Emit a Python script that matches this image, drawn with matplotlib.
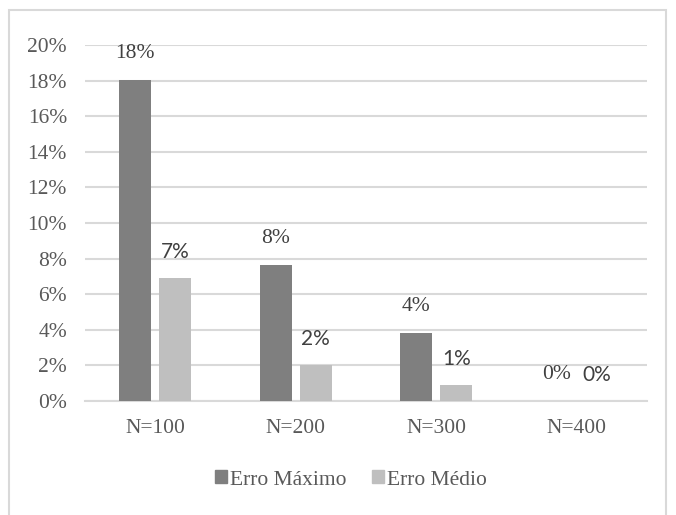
import matplotlib
matplotlib.use("Agg")
import matplotlib.pyplot as plt
from matplotlib.patches import Rectangle, Patch
from matplotlib.ticker import FuncFormatter
import numpy as np

categories = ["N=100", "N=200", "N=300", "N=400"]
erro_maximo = [0.1803, 0.0764, 0.0384, 0.0]
erro_medio = [0.0689, 0.0202, 0.0090, 0.0]
max_labels = ["18%", "8%", "4%", "0%"]
med_labels = ["7%", "2%", "1%", "0%"]
yticks = np.arange(0, 0.201, 0.02)

dark = "#7f7f7f"
light = "#bfbfbf"
grid = "#d9d9d9"
serif = "Liberation Serif"
sans = "Lato"
fs = 15.5

W, H = 676, 515
fig = plt.figure(figsize=(W / 100, H / 100), dpi=100)
ax = fig.add_axes([85 / W, 1 - 401 / H, (647 - 85) / W, (401 - 45) / H])

x = np.arange(len(categories))
bw = 0.228
gap = 0.057
off = (bw + gap) / 2
ax.bar(x - off, erro_maximo, bw, color=dark, zorder=3)
ax.bar(x + off, erro_medio, bw, color=light, zorder=3)

for xi, v, t in zip(x, erro_maximo, max_labels):
    ax.annotate(t, (xi - off, v), xytext=(0, 19), textcoords="offset points",
                ha="center", va="center", fontsize=fs, family=serif, color="#404040")
for xi, v, t in zip(x, erro_medio, med_labels):
    ax.annotate(t, (xi + off, v), xytext=(0, 19), textcoords="offset points",
                ha="center", va="center", fontsize=15, family=sans, color="#404040")

ax.set_xlim(-0.5, len(categories) - 0.5)
ax.set_ylim(0, 0.20)
ax.set_yticks(yticks)
ax.yaxis.set_major_formatter(FuncFormatter(lambda v, p: f"{v * 100:.0f}%"))
ax.set_xticks(x)
ax.set_xticklabels(categories)
ax.grid(axis="y", color=grid, linewidth=1.5, zorder=0)
ax.tick_params(length=0, labelsize=fs, labelcolor="#595959")
ax.tick_params(axis="y", pad=13)
ax.tick_params(axis="x", pad=13)
for lab in ax.get_xticklabels() + ax.get_yticklabels():
    lab.set_family(serif)
for s in ["top", "right", "left"]:
    ax.spines[s].set_visible(False)
ax.spines["bottom"].set_color(grid)
ax.spines["bottom"].set_linewidth(1.5)

handles = [Patch(color=dark, label="Erro Máximo"), Patch(color=light, label="Erro Médio")]
fig.legend(handles=handles, loc="center", bbox_to_anchor=(351 / W, 1 - 480 / H),
           ncol=2, frameon=False, handlelength=0.55, handleheight=0.55,
           handletextpad=0.15, columnspacing=1.2,
           prop={"family": serif, "size": fs}, labelcolor="#595959")

fig.patches.append(Rectangle((9 / W, -0.01), (666 - 9) / W, 1 - 10 / H + 0.01,
                             transform=fig.transFigure, fill=False,
                             edgecolor=grid, linewidth=1.5))

fig.savefig("out.png", dpi=100)
